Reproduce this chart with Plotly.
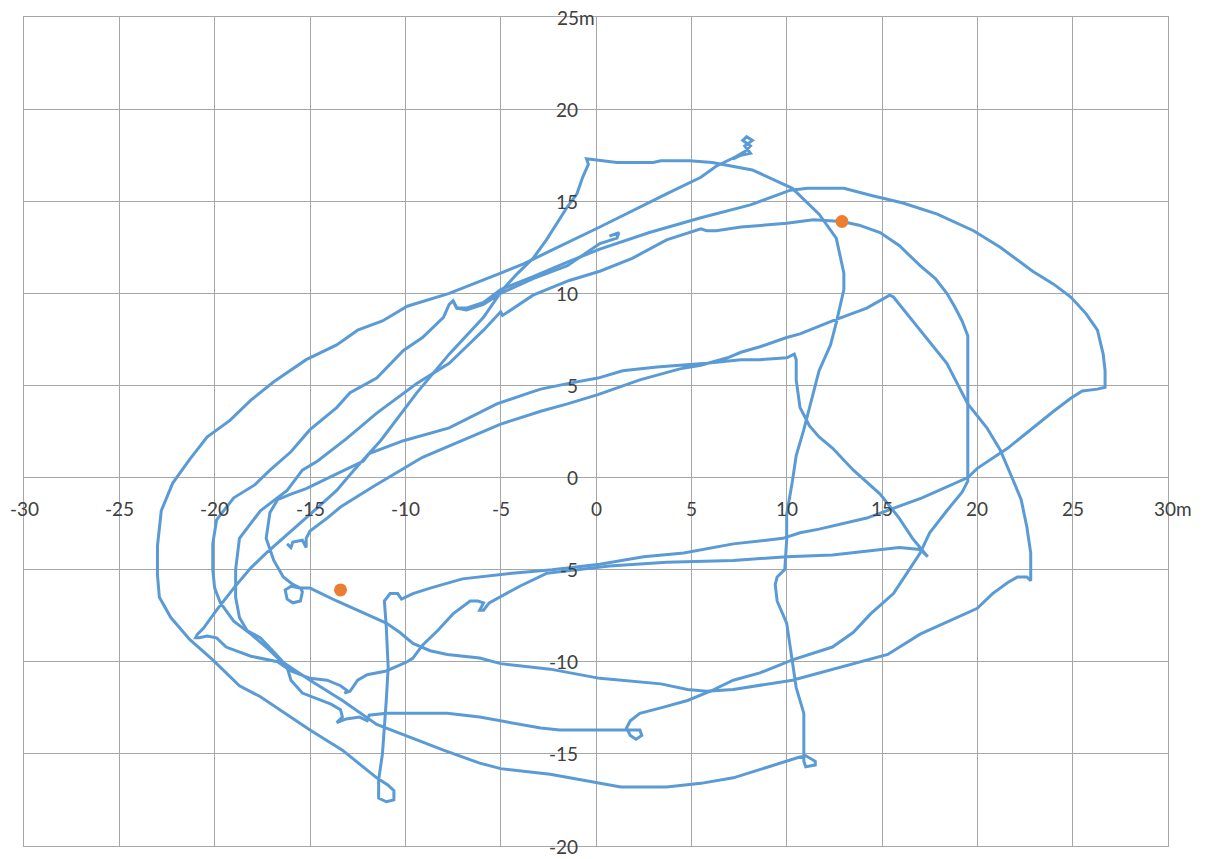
import plotly.graph_objects as go

# Walking track recorded around the site, split into three continuous runs (metres)
route1_x = [-7.5, -7.3, -6.8, -5.9, -5.0, -3.3, -1.5, 0.2, 2.8, 5.5, 8.1, 10.2, 11.1, 11.7, 13.0, 14.5, 16.1, 17.9,
            19.8, 21.2, 22.9, 24.0, 24.9, 25.7, 26.3, 26.6, 26.7, 26.7, 26.3, 25.5, 24.9, 24.0, 22.9, 21.6, 20.0,
            19.5, 17.1, 15.3, 14.2, 11.7, 10.7, 9.8, 7.2, 4.6, 2.5, 0.2, -2.3, -4.4, -7.0, -8.7, -9.6, -10.2,
            -10.4, -10.8, -11.1, -11.0, -10.9, -11.0, -11.1, -11.2, -11.4, -11.4, -11.0, -10.6, -10.6, -10.9,
            -11.5, -13.3, -15.0, -17.6, -18.7, -20.1, -21.3, -22.3, -22.9, -23.0, -23.0, -22.8, -22.2, -21.3,
            -20.4, -19.2, -18.1, -16.9, -15.2, -13.6, -12.5, -11.2, -9.9, -7.7, -5.0, -3.8, -2.4, 0.2, 3.7, 5.5,
            6.3, 7.3, 7.8, 8.1, 7.7, 7.9, 8.2, 7.8, 8.1, 7.6, 7.2]
route1_y = [9.6, 9.2, 9.2, 9.5, 10.2, 10.9, 11.7, 12.4, 13.3, 14.1, 14.8, 15.6, 15.7, 15.7, 15.7, 15.3, 14.9, 14.3,
            13.4, 12.5, 11.2, 10.5, 9.8, 8.9, 8.0, 6.7, 5.8, 4.9, 4.8, 4.7, 4.3, 3.6, 2.7, 1.6, 0.5,
            0.0, -1.1, -1.8, -2.2, -2.8, -3.0, -3.3, -3.6, -4.1, -4.3, -4.7, -5.0, -5.2, -5.5, -6.0, -6.3, -6.6,
            -6.3, -6.3, -6.7, -8.1, -10.3, -12.1, -13.9, -15.0, -16.4, -17.4, -17.6, -17.5, -17.0, -16.7,
            -16.3, -14.8, -13.7, -11.9, -11.3, -9.9, -8.8, -7.6, -6.5, -5.3, -3.7, -1.8, -0.3, 1.0,
            2.2, 3.1, 4.2, 5.2, 6.4, 7.2, 8.0, 8.5, 9.3, 10.0, 11.1, 11.6, 12.3, 13.6, 15.4, 16.3,
            16.9, 17.4, 17.7, 18.0, 18.3, 18.5, 18.3, 18.0, 17.6, 17.5, 17.3]

route2_x = [0.7, 1.2, 1.1, 0.2, -1.5, -3.3, -5.0, -5.9, -6.8, -7.3, -7.5, -7.7, -8.0, -9.1, -10.1, -11.5, -12.9,
            -13.6, -15.0, -16.0, -17.1, -17.9, -19.0, -19.9, -20.1, -20.1, -20.0, -19.7, -19.0, -18.1, -17.3,
            -16.6, -15.0, -13.3, -11.5, -9.8, -8.0, -6.1, -5.0, -2.4, -0.8, 1.3, 3.7, 5.5, 7.2, 9.0, 10.6, 11.0,
            11.5, 11.5, 11.0, 10.9, 10.9, 10.9, 10.5, 10.3, 10.0, 9.5, 9.4, 9.5, 9.9, 10.0, 10.0, 10.3, 10.5,
            10.9, 11.2, 11.7, 12.3, 12.6, 13.0, 13.0, 12.6, 11.7, 10.3, 8.2, 6.1, 4.9, 3.4, 3.0, 1.1, -0.5, -0.4,
            -0.7, -1.0, -1.5, -2.6, -3.3, -4.1, -4.9, -5.9, -7.7, -9.4, -11.3, -12.7, -13.6, -15.0, -16.4, -17.3,
            -18.1, -19.0, -19.9, -20.6, -20.9, -21.0, -20.8, -20.4, -19.9, -19.4, -18.1, -16.7, -16.0, -15.0,
            -14.1, -13.4, -13.0, -13.2, -12.9, -12.5, -12.0, -11.0, -9.9, -9.6, -9.1, -8.3, -7.5, -6.6, -6.2,
            -5.9, -6.1, -5.9, -5.6, -4.0, -2.6, -0.2, 0.7, 3.7, 7.2, 10.0, 12.4, 15.9, 17.0, 17.4, 16.6, 15.9,
            14.9, 13.5, 12.4, 11.7, 11.2, 10.7, 10.5, 10.5, 10.4, 10.0, 8.6, 7.6, 5.8, 4.4, 3.2, 1.4, 0.1, -1.5,
            -2.9, -3.5, -5.2, -7.7, -10.1, -11.9, -12.2, -13.6, -15.2, -16.0, -16.7, -17.1, -17.3, -16.9, -16.4,
            -15.9, -15.5, -16.0, -16.3, -16.2, -15.9, -15.5, -15.4, -15.5, -15.0, -13.6, -11.9, -11.0, -10.3,
            -9.6, -8.7, -7.8, -6.1, -5.0, -2.4, 0.2, 3.4, 4.8, 5.8, 7.2, 10.3, 11.7, 13.5, 15.3, 17.0, 20.0, 20.8,
            21.6, 22.1, 22.6, 22.8, 22.8, 22.6, 22.3, 21.9, 21.2, 20.5, 19.5, 18.4, 17.0, 15.9, 15.6, 15.4, 14.2,
            12.4, 10.7, 10.0, 8.6, 7.6, 6.9, 5.5, 4.4, 2.3, 0.1, -1.5, -2.9, -5.0, -7.1, -9.1, -11.7, -13.4,
            -14.1, -15.0, -15.2, -15.2, -15.4, -15.9, -16.0, -16.2]
route2_y = [13.1, 13.3, 13.0, 12.7, 11.5, 10.8, 10.0, 9.4, 9.1, 9.2, 9.6, 9.4, 8.7, 7.6, 6.9, 5.4, 4.6,
            3.8, 2.6, 1.4, 0.4, -0.4, -1.1, -2.3, -3.6, -5.0, -6.0, -6.8, -7.8, -8.5, -9.2,
            -9.9, -11.0, -12.1, -13.4, -14.1, -14.8, -15.5, -15.8, -16.1, -16.4, -16.8, -16.8, -16.6, -16.3,
            -15.7, -15.2, -15.1,
            -15.4, -15.6, -15.7, -15.4, -14.3, -12.8, -11.4, -10.1, -7.9, -6.7, -5.8, -5.4, -5.0, -3.4, -2.0,
            -0.2, 1.2,
            2.6, 3.8, 5.8, 7.2, 8.4, 10.2, 11.1, 13.0, 14.3, 15.7, 16.7, 17.1, 17.2, 17.2, 17.1, 17.1, 17.3, 17.0,
            16.3, 15.4, 14.7, 12.9, 11.9, 11.1, 10.2, 8.7, 6.7, 4.6, 2.0, 0.4, -0.7, -2.0, -3.3, -4.1,
            -4.9, -6.0, -7.2, -8.2, -8.5, -8.7, -8.7, -8.6, -8.7, -9.2, -9.7, -10.0, -10.5, -10.9,
            -11.0, -11.3, -11.6, -11.7, -11.6, -11.0, -10.7, -10.5, -10.0, -9.8, -9.1, -8.3, -7.4, -6.7, -6.7,
            -6.8, -7.2, -7.2, -6.8, -5.9, -5.2, -4.9, -4.8, -4.6, -4.5, -4.3, -4.2, -3.8, -3.9, -4.3, -3.3, -2.2,
            -0.9, 0.4, 1.6, 2.2, 2.8, 3.8, 5.3, 6.4, 6.7, 6.5, 6.4, 6.4, 6.2, 6.1, 6.0, 5.8, 5.4, 5.1,
            4.8, 4.6, 4.0, 2.7, 2.0, 1.3, 0.9, 0.2, -0.6, -0.9, -1.2, -1.9, -3.3, -4.5, -5.4,
            -5.8, -6.0, -5.9, -6.1, -6.6, -6.8, -6.7, -6.2, -6.0, -6.0, -6.7, -7.5, -7.9, -8.4,
            -9.0, -9.4, -9.6, -9.8, -10.1, -10.4, -10.9, -11.2, -11.5, -11.6, -11.5, -11.0, -10.6, -10.1, -9.6,
            -8.5, -7.1, -6.3,
            -5.7, -5.4, -5.4, -5.6, -4.1, -2.7, -1.2, -0.2, 1.5, 2.7, 4.0, 6.2, 8.0, 9.4, 9.8, 9.9, 9.2,
            8.5, 7.8, 7.6, 7.1, 6.8, 6.5, 6.1, 5.9, 5.3, 4.5, 4.0, 3.6, 2.9, 2.0, 1.1, -0.5, -1.6,
            -2.2, -2.9, -3.3, -3.8, -3.4, -3.5, -3.8, -3.6]

route3_x = [12.9, 13.8, 14.9, 15.9, 17.0, 17.8, 18.4, 18.8, 19.2, 19.5, 19.5, 19.5, 19.5, 19.5, 19.5, 19.5, 19.2,
            18.4, 17.5, 17.0, 16.3, 15.6, 14.4, 13.5, 12.4, 10.3, 8.6, 7.2, 6.0, 4.8, 3.4, 2.3, 1.8, 1.6, 1.8,
            2.1, 2.4, 2.3, 1.8, 1.4, 0.2, -1.9, -2.9, -4.0, -5.0, -6.1, -7.8, -9.2, -11.0, -11.9, -12.0, -12.4,
            -13.1, -13.6, -13.3, -13.4, -13.9, -15.4, -16.0, -16.2, -16.6, -17.6, -18.3, -18.7, -18.9, -18.9,
            -18.7, -17.6, -16.2, -15.4, -14.6, -13.1, -11.5, -9.4, -7.7, -6.8, -5.9, -5.0, -4.9, -3.3, -1.4, 0.2,
            1.9, 3.7, 5.5, 5.8, 6.3, 7.6, 10.0, 11.4, 12.9]
route3_y = [13.9, 13.7, 13.3, 12.6, 11.5, 10.8, 10.0, 9.3, 8.5, 7.7, 6.9, 5.8, 4.2, 2.0, 0.4, -0.2, -0.8,
            -1.8, -3.0, -4.1, -5.2, -6.3, -7.4, -8.4, -9.2, -9.9, -10.6, -11.0, -11.6, -12.1, -12.5, -12.8, -13.2,
            -13.6, -14.0,
            -14.2, -14.0, -13.7, -13.7, -13.7, -13.7, -13.7, -13.6, -13.4, -13.2, -13.0, -12.8, -12.8, -12.8,
            -12.9, -13.2, -13.0,
            -13.1, -13.3, -13.0, -12.6, -12.3, -11.7, -11.0, -10.3, -9.8, -8.7, -8.3, -7.6, -6.5, -5.0,
            -3.3, -1.8, -0.7, 0.4, 0.9, 2.1, 3.5, 5.1, 6.2, 7.1, 8.0, 9.0, 8.8, 9.9, 10.7, 11.2,
            11.9, 12.9, 13.5, 13.4, 13.4, 13.6, 13.8, 14.0, 13.9]

# Marked positions
marker_x = [12.9, -13.4]
marker_y = [13.9, -6.1]

# Axis tick values and labels
x_ticks = [-30, -25, -20, -15, -10, -5, 0, 5, 10, 15, 20, 25, 30]
x_labels = ["-30", "-25", "-20", "-15", "-10", "-5", "0", "5", "10", "15", "20", "25", "30m"]
y_ticks = [-20, -15, -10, -5, 0, 5, 10, 15, 20, 25]
y_labels = ["-20", "-15", "-10", "-5", "0", "5", "10", "15", "20", "25m"]

track_x = route1_x + [None] + route2_x + [None] + route3_x
track_y = route1_y + [None] + route2_y + [None] + route3_y

LINE_BLUE = "#5B9BD5"
DOT_ORANGE = "#ED7D31"
GRID = "#A6A6A6"
FONT = "Lato, 'Open Sans', sans-serif"

fig = go.Figure()
fig.add_trace(go.Scatter(x=track_x, y=track_y, mode="lines",
                         line=dict(color=LINE_BLUE, width=3), connectgaps=False,
                         hoverinfo="skip", showlegend=False))
fig.add_trace(go.Scatter(x=marker_x, y=marker_y, mode="markers",
                         marker=dict(color=DOT_ORANGE, size=13), showlegend=False))

annotations = []
for v, t in zip(x_ticks, x_labels):
    annotations.append(dict(x=v, y=0, xref="x", yref="y", text=t, showarrow=False,
                            xanchor="center", yanchor="middle", yshift=-31,
                            xshift=5 if t.endswith("m") else 0,
                            font=dict(family=FONT, size=19, color="#404040")))
for v, t in zip(y_ticks, y_labels):
    annotations.append(dict(x=0, y=v, xref="x", yref="y", text=t, showarrow=False,
                            xanchor="right", yanchor="middle",
                            xshift=1 if t.endswith("m") else -16,
                            font=dict(family=FONT, size=19, color="#404040")))

fig.update_layout(
    width=1209, height=859,
    margin=dict(l=24, r=41, t=17, b=13),
    paper_bgcolor="white", plot_bgcolor="white",
    xaxis=dict(range=[-30, 30], tickvals=x_ticks, showticklabels=False, showgrid=True,
               gridcolor=GRID, gridwidth=1, zeroline=False, showline=True, mirror=True,
               linecolor=GRID, linewidth=1, ticks=""),
    yaxis=dict(range=[-20, 25], tickvals=y_ticks, showticklabels=False, showgrid=True,
               gridcolor=GRID, gridwidth=1, zeroline=False, showline=True, mirror=True,
               linecolor=GRID, linewidth=1, ticks=""),
    annotations=annotations,
)

fig.write_html("out.html")
